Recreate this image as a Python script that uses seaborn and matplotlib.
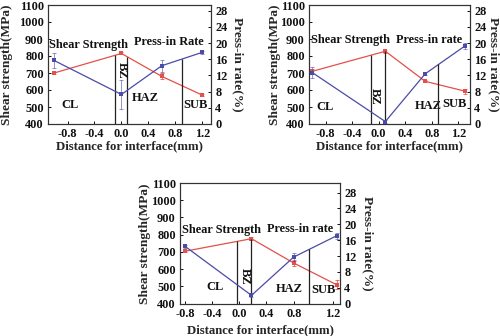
import numpy as np
import matplotlib
matplotlib.use("Agg")
import matplotlib.pyplot as plt
import seaborn as sns

# ---------------- data ----------------
zones = ["CL", "BZ", "HAZ", "SUB"]
series_names = ["Shear Strength", "Press-in Rate"]

p1_x = [-1.0, 0.0, 0.6, 1.2]
p1_shear = [700, 815, 680, 570]
p1_shear_err = [4, 6, 18, 6]
p1_press = [15.7, 7.3, 14.4, 17.7]
p1_press_err = [1.8, 3.5, 1.5, 0.3]

p2_x = [-1.0, 0.1, 0.7, 1.3]
p2_shear = [710, 828, 651, 593]
p2_shear_err = [14, 8, 5, 15]
p2_press = [12.7, 0.6, 12.4, 19.3]
p2_press_err = [1.4, 0.3, 0.4, 0.8]

p3_x = [-0.8, 0.18, 0.8, 1.43]
p3_shear = [704, 777, 636, 510]
p3_shear_err = [5, 8, 18, 25]
p3_press = [14.5, 2.1, 11.75, 17.1]
p3_press_err = [0.4, 0.3, 1.0, 0.8]

xtick_labels = ["-0.8", "-0.4", "0.0", "0.4", "0.8", "1.2"]
left_ticks = [400, 500, 600, 700, 800, 900, 1000, 1100]
right_ticks = [0, 4, 8, 12, 16, 20, 24, 28]

RED = "#e4504a"
BLUE = "#4b4ba8"

sns.set_style("ticks")
plt.rcParams["font.family"] = ["Liberation Serif", "DejaVu Serif"]
plt.rcParams["font.weight"] = "bold"
plt.rcParams["axes.labelweight"] = "bold"

fig = plt.figure(figsize=(5.0, 3.36), dpi=100)
W, H = 500.0, 336.0


def rect(l, r, t, b):
    return [l / W, (H - b) / H, (r - l) / W, (b - t) / H]


def panel(box, x, shear, shear_err, press, press_err, xlim, xticks, rtop,
          bounds, bound_top_series, texts, press_label, lab_coords):
    ax = fig.add_axes(box)
    ax2 = ax.twinx()
    x = np.asarray(x, float)
    shear = np.asarray(shear, float)
    press = np.asarray(press, float)

    sns.lineplot(x=x, y=shear, ax=ax, color=RED, marker="s", markersize=3,
                 markeredgewidth=0, linewidth=0.9, legend=False)
    ax.errorbar(x, shear, yerr=shear_err, fmt="none", ecolor=RED,
                elinewidth=0.7, capsize=1.5, capthick=0.7, alpha=0.8)
    sns.lineplot(x=x, y=press, ax=ax2, color=BLUE, marker="s", markersize=3,
                 markeredgewidth=0, linewidth=0.9, legend=False)
    ax2.errorbar(x, press, yerr=press_err, fmt="none", ecolor=BLUE,
                 elinewidth=0.7, capsize=1.5, capthick=0.7, alpha=0.6)

    ax.set_xlim(*xlim)
    ax.set_ylim(400, 1100)
    ax2.set_ylim(0, rtop)
    ax.set_yticks(left_ticks)
    ax2.set_yticks(right_ticks)
    ax.set_xticks(xticks)
    ax.set_xticklabels(xtick_labels)

    # zone boundary lines, reaching up to the curve
    for bx, which in zip(bounds, bound_top_series):
        if which == "shear":
            top = np.interp(bx, x, shear)
            ax.vlines(bx, 400, top, color="#222222", linewidth=0.9)
        else:
            top = np.interp(bx, x, press)
            ax2.vlines(bx, 0, top, color="#222222", linewidth=0.9)

    for name, (tx, ty) in zip(zones, texts[:4]):
        rot = -90 if name == "BZ" else 0
        ax.text(tx, ty, name, ha="center", va="center", rotation=rot,
                fontsize=9, fontweight="bold", color="#111111")
    (sx, sy), (px, py) = texts[4], texts[5]
    ax.text(sx, sy, series_names[0], ha="center", va="center",
            fontsize=8.8, fontweight="bold", color="#111111")
    ax.text(px, py, press_label, ha="center", va="center",
            fontsize=8.8, fontweight="bold", color="#111111")

    for a in (ax, ax2):
        a.tick_params(direction="in", length=2.5, width=0.7, labelsize=8.8,
                      pad=3, colors="#111111")
        for s in a.spines.values():
            s.set_linewidth(0.8)
            s.set_color("#333333")
        for lab in a.get_xticklabels() + a.get_yticklabels():
            lab.set_fontweight("bold")
    ax.set_xlabel("Distance for interface(mm)", fontsize=9.2)
    ax.set_ylabel("Shear strength(MPa)", fontsize=9.6)
    ax2.set_ylabel("Press-in rate(%)", fontsize=9.6, rotation=270)
    lx, rx, by = lab_coords
    ax.yaxis.set_label_coords(lx, 0.5)
    ax2.yaxis.set_label_coords(rx, 0.5)
    ax.xaxis.set_label_coords(0.5, by)
    ax.yaxis.label.set_verticalalignment("center")
    ax2.yaxis.label.set_verticalalignment("center")
    ax.xaxis.label.set_verticalalignment("center")
    return ax, ax2


panel(rect(48, 211, 5, 124), p1_x, p1_shear, p1_shear_err, p1_press, p1_press_err,
      (-1.09, 1.33), [-0.8, -0.4, 0.0, 0.4, 0.8, 1.2], 29.4,
      [-0.09, 0.09, 0.9], ["shear", "shear", "press"],
      [(-0.76, 512), (0.006, 714), (0.36, 551), (1.10, 512), (-0.49, 865), (0.71, 880)],
      "Press-in Rate", (-0.25, 1.166, -0.19))

panel(rect(309, 470, 5, 124), p2_x, p2_shear, p2_shear_err, p2_press, p2_press_err,
      (-1.05, 1.375), [-0.8, -0.4, 0.0, 0.4, 0.8, 1.2], 29.4,
      [-0.12, 0.1, 0.9], ["shear", "shear", "press"],
      [(-0.81, 498), (-0.06, 561), (0.75, 506), (1.14, 518), (-0.42, 894), (0.76, 894)],
      "Press-in rate", (-0.21, 1.145, -0.19))

panel(rect(180, 340, 183, 303.7), p3_x, p3_shear, p3_shear_err, p3_press, p3_press_err,
      (-0.87, 1.48), [-0.8, -0.4, 0.0, 0.4, 0.8, 1.37], 30.4,
      [-0.03, 0.18, 1.03], ["shear", "shear", "press"],
      [(-0.36, 495), (0.08, 559), (0.74, 487), (1.24, 482), (-0.26, 829), (0.90, 832)],
      "Press-in rate", (-0.22, 1.175, -0.22))

fig.savefig("out.png", dpi=100)
